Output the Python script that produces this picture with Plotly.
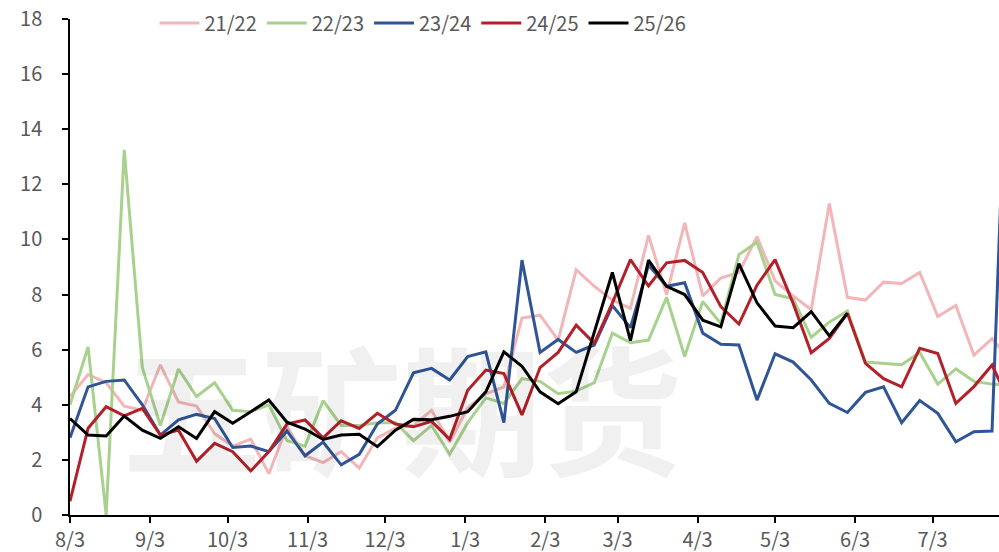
import pandas as pd
import plotly.graph_objects as go

# Weekly values, one list per season (week 0 = 8/3)
season_names = ["21/22", "22/23", "23/24", "24/25", "25/26"]

s2122 = [4.3, 5.1, 4.8, 3.95, 3.8, 5.45, 4.1, 3.95, 2.95, 2.5, 2.75, 1.5, 3.2, 2.15,
         1.9, 2.3, 1.7, 2.8, 3.15, 3.25, 3.8, 2.65, 3.9, 4.4, 4.65, 7.15, 7.25, 6.35,
         8.9, 8.3, 7.8, 7.5, 10.15, 8.0, 10.6, 7.95, 8.6, 8.8, 10.1, 8.5, 7.95, 7.45,
         11.3, 7.9, 7.8, 8.45, 8.4, 8.8, 7.2, 7.6, 5.8, 6.4, 5.6]
s2223 = [4.0, 6.1, 0.0, 13.25, 5.35, 3.25, 5.3, 4.3, 4.8, 3.8, 3.75, 4.0, 2.7, 2.5,
         4.15, 3.25, 3.25, 3.35, 3.35, 2.7, 3.25, 2.2, 3.35, 4.25, 4.05, 4.95, 4.85,
         4.4, 4.5, 4.8, 6.6, 6.25, 6.35, 7.9, 5.75, 7.75, 6.95, 9.45, 9.9, 8.0, 7.85,
         6.45, 7.0, 7.4, 5.55, 5.5, 5.45, 5.9, 4.75, 5.3, 4.85, 4.75, 4.7]
s2324 = [2.8, 4.65, 4.85, 4.9, 4.0, 2.9, 3.45, 3.65, 3.5, 2.45, 2.5, 2.3, 3.05, 2.15,
         2.65, 1.82, 2.2, 3.3, 3.8, 5.16, 5.32, 4.9, 5.75, 5.92, 3.35, 9.25, 5.9, 6.37,
         5.9, 6.17, 7.6, 6.8, 9.07, 8.3, 8.43, 6.6, 6.2, 6.17, 4.17, 5.85, 5.55, 4.9,
         4.05, 3.72, 4.45, 4.65, 3.35, 4.15, 3.69, 2.66, 3.02, 3.05, 20.6]
s2425 = [0.5, 3.15, 3.93, 3.6, 3.87, 2.9, 3.08, 1.95, 2.6, 2.3, 1.6, 2.3, 3.3, 3.45,
         2.8, 3.42, 3.14, 3.69, 3.3, 3.2, 3.4, 2.75, 4.53, 5.26, 5.13, 3.63, 5.35, 5.9,
         6.89, 6.23, 7.7, 9.27, 8.31, 9.15, 9.24, 8.8, 7.56, 6.93, 8.34, 9.27, 7.68,
         5.89, 6.41, 7.32, 5.5, 4.95, 4.65, 6.05, 5.86, 4.05, 4.66, 5.44, 4.05]
s2526 = [3.5, 2.9, 2.87, 3.59, 3.08, 2.78, 3.2, 2.78, 3.75, 3.33, 3.75, 4.17, 3.37,
         3.12, 2.74, 2.9, 2.93, 2.48, 3.08, 3.47, 3.46, 3.58, 3.75, 4.47, 5.92, 5.4,
         4.47, 4.04, 4.47, 6.65, 8.8, 6.33, 9.25, 8.3, 8.0, 7.07, 6.83, 9.12, 7.7,
         6.86, 6.8, 7.38, 6.5, 7.32]

series = [s2122, s2223, s2324, s2425, s2526]
colors = ["#F2B6B9", "#A9D18E", "#2F5597", "#B3202A", "#000000"]

tick_labels = ["8/3", "9/3", "10/3", "11/3", "12/3", "1/3",
               "2/3", "3/3", "4/3", "5/3", "6/3", "7/3"]

start = pd.Timestamp("2025-08-03")
week_dates = [start + pd.Timedelta(days=7 * i) for i in range(53)]
tick_dates = [start + pd.DateOffset(months=m) for m in range(len(tick_labels))]
x_end = start + pd.Timedelta(days=359.7)

fig = go.Figure()
for name, vals, col in zip(season_names, series, colors):
    fig.add_trace(go.Scatter(
        x=week_dates[:len(vals)], y=vals, name=name, mode="lines",
        line=dict(color=col, width=3),
    ))

# faint company watermark
fig.add_annotation(
    text="<b>五矿期货</b>", xref="paper", yref="paper", x=0.357, y=0.224,
    xanchor="center", yanchor="middle", showarrow=False,
    font=dict(family="Noto Sans CJK SC", size=140, color="rgba(0,0,0,0.06)"),
)

tick_font = dict(family="Noto Sans CJK SC, Roboto, sans-serif", size=20, color="#595959")

fig.update_layout(
    width=999, height=552,
    margin=dict(l=70, r=0, t=19, b=37),
    paper_bgcolor="white", plot_bgcolor="white",
    showlegend=True,
    legend=dict(
        orientation="h", x=0.38, y=0.992, xanchor="center", yanchor="middle",
        font=tick_font, bgcolor="rgba(0,0,0,0)", itemwidth=40,
        traceorder="normal",
    ),
    xaxis=dict(
        type="date", range=[start, x_end],
        tickmode="array", tickvals=tick_dates, ticktext=tick_labels,
        showline=True, linecolor="#000000", linewidth=1.5,
        ticks="outside", ticklen=6, tickcolor="#000000", tickwidth=1.5,
        showgrid=False, zeroline=False, tickfont=tick_font,
    ),
    yaxis=dict(
        range=[0, 18], dtick=2, tick0=0,
        showline=True, linecolor="#000000", linewidth=1.5,
        ticks="outside", ticklen=6, tickcolor="#000000", tickwidth=1.5,
        showgrid=False, zeroline=False, tickfont=tick_font,
        ticklabelstandoff=16,
    ),
)

fig.write_html("out.html")
